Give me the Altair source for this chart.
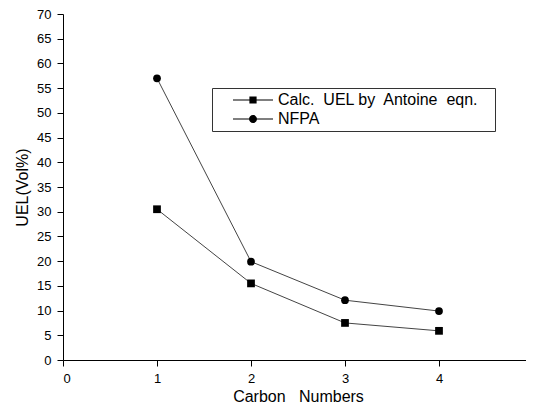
import altair as alt
import pandas as pd

carbon = [1, 2, 3, 4]
calc_uel = [30.5, 15.5, 7.5, 5.9]
nfpa_uel = [57.0, 19.9, 12.1, 9.9]
series_names = ["Calc.\u00a0 UEL by\u00a0 Antoine\u00a0 eqn.\u2800", "NFPA"]
x_ticks = [0, 1, 2, 3, 4, 5]
y_ticks = list(range(0, 75, 5))

df = pd.DataFrame({
    "carbon": carbon * 2,
    "uel": calc_uel + nfpa_uel,
    "series": [series_names[0]] * 4 + [series_names[1]] * 4,
})

FONT = "Liberation Sans"

sq_path = ("M-2.5,-0.06H2.5V0.06H-2.5Z"
           "M-0.45,-0.45H0.45V0.45H-0.45Z")
ci_path = ("M-2.5,-0.06H2.5V0.06H-2.5Z"
           "M0.5,0A0.5,0.5,0,1,1,-0.5,0A0.5,0.5,0,1,1,0.5,0Z")

W = 470
x_enc = alt.X("carbon:Q", scale=alt.Scale(domain=[0, 5], nice=False),
              axis=alt.Axis(values=x_ticks, title="Carbon\u00a0\u00a0 Numbers",
                            titleX=W / 2, titleY=36, titleBaseline="middle", titleAlign="center"))
y_enc = alt.Y("uel:Q", scale=alt.Scale(domain=[0, 70], nice=False),
              axis=alt.Axis(values=y_ticks, title="UEL(Vol%)",
                            titleX=-41, titleY=173, titleBaseline="middle", titleAlign="center",
                            titleAngle=-90))

lines = alt.Chart(df).mark_line(color="#444", strokeWidth=1).encode(
    x=x_enc, y=y_enc, detail="series:N"
)

points = alt.Chart(df).mark_point(filled=True, color="black", opacity=1, size=60).encode(
    x=x_enc, y=y_enc,
    shape=alt.Shape("series:N", scale=alt.Scale(domain=series_names, range=["square", "circle"]),
                    legend=None),
)

legend = alt.Legend(
    title=None, orient="none", legendX=149, legendY=74,
    strokeColor="#333", fillColor="white", padding=4,
    symbolSize=256, symbolOffset=29, labelOffset=17, rowPadding=3,
    symbolFillColor="black", symbolStrokeColor="#333", symbolStrokeWidth=0, symbolOpacity=1,
    labelFont=FONT, labelFontSize=16, labelColor="black", labelLimit=400,
)

legend_layer = alt.Chart(df).mark_point(filled=True, color="black",
                                        size=0).encode(
    x=x_enc, y=y_enc,
    shape=alt.Shape("series:N", scale=alt.Scale(domain=series_names, range=[sq_path, ci_path]),
                    legend=legend),
)

chart = (lines + points + legend_layer).resolve_scale(shape="independent").properties(
    width=W, height=346,
    autosize=alt.AutoSizeParams(type="none"),
    padding={"left": 55, "top": 6, "right": -7, "bottom": 44},
).configure_view(stroke=None).configure_axis(
    domainColor="black", domainWidth=1, tickColor="black", tickSize=6, tickWidth=1,
    grid=False, labelFont=FONT, labelFontSize=13, labelColor="black", labelPadding=6,
    titleFont=FONT, titleFontSize=16, titleColor="black", titleFontWeight="normal",
)

chart.save("out.html", embed_options={"renderer": "svg", "actions": False})
